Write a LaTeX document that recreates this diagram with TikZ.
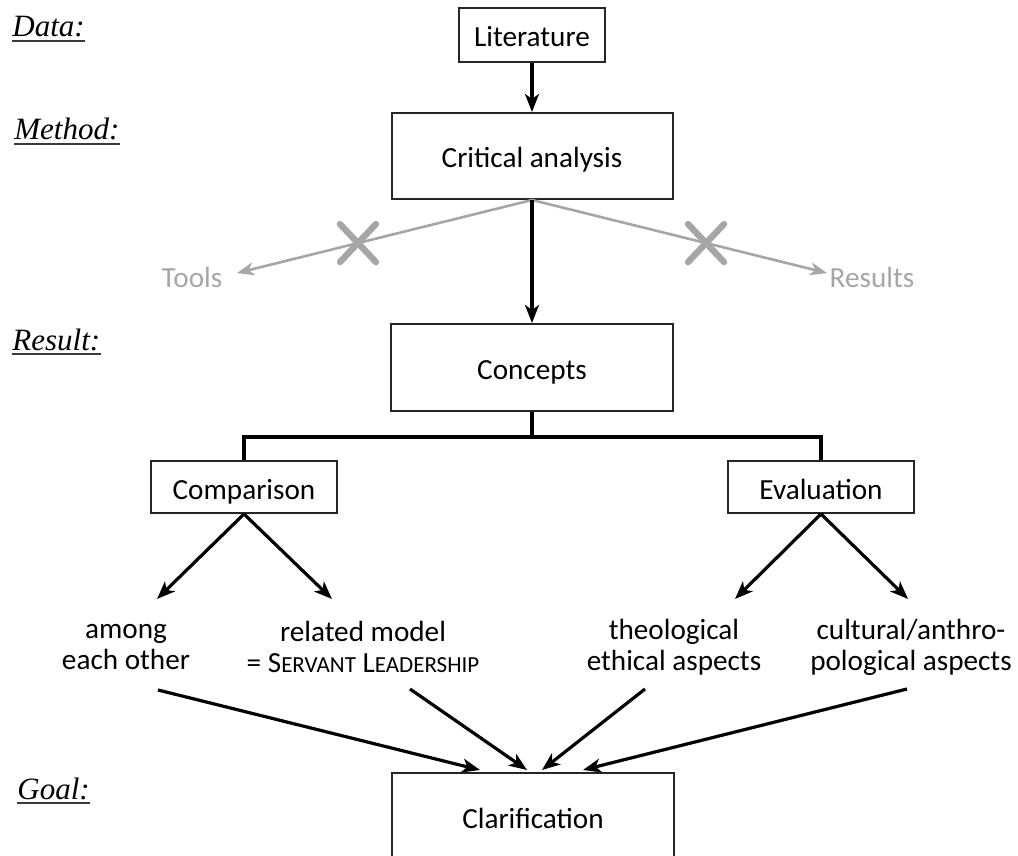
\documentclass[tikz,border=0pt]{standalone}
\usepackage{fontspec}
\setmainfont{Carlito}
\newfontfamily\labfont{Liberation Serif}
\usetikzlibrary{arrows.meta,calc}
\definecolor{lgray}{HTML}{A6A6A6}
\definecolor{ulgray}{HTML}{3A3A3A}
\newcommand{\fsc}[1]{{\fontsize{11.5}{12}\selectfont #1}}
\begin{document}
\begin{tikzpicture}[x=0.5pt,y=-0.5pt,
 box/.style={draw=black!85, line width=1pt, inner sep=0pt, text height=12pt, text depth=0pt, font=\fontsize{14.6}{15.5}\selectfont},
 leaf/.style={inner sep=0pt, align=center, font=\fontsize{14.6}{15.5}\selectfont},
 arr/.style={line width=1.6pt, -{Stealth[length=9pt,width=7pt,inset=2.5pt]}},
 tree/.style={line width=1.7pt},
 garr/.style={draw=lgray, line width=1.3pt, -{Stealth[length=8.5pt,width=6.5pt,inset=2.5pt]}},
 cross/.style={draw=lgray, line width=3.2pt, line cap=round},
 gtext/.style={text=lgray, inner sep=0pt, font=\fontsize{14.6}{15.5}\selectfont},
 lab/.style={inner sep=0pt, anchor=base west, font=\labfont\itshape\fontsize{15.5}{16}\selectfont},
 ul/.style={draw=ulgray, line width=1.1pt}]
\useasboundingbox (0,0) rectangle (1018,856);
\clip (0,0) rectangle (1018,856);

% left labels
\node[lab] (data) at (12,37) {Data:};
\node[lab] (method) at (14,140) {Method:};
\node[lab] (result) at (12,350) {Result:};
\node[lab] (goal) at (17,799) {Goal:};
\foreach \n in {data,method,result,goal}
  \draw[ul] ([yshift=-2pt]\n.base west) -- ([yshift=-2pt]\n.base east);

% boxes
\node[box, minimum width=73pt, minimum height=27pt] (lit) at (532,35) {Literature};
\node[box, minimum width=140.5pt, minimum height=43pt] (crit) at (532,156) {Critical analysis};
\node[box, minimum width=141pt, minimum height=43.5pt] (conc) at (532,367.5) {Concepts};
\node[box, minimum width=93pt, minimum height=26pt] (comp) at (244,487) {Comparison};
\node[box, minimum width=93pt, minimum height=26pt] (eval) at (821,487) {Evaluation};
\node[box, minimum width=141pt, minimum height=43.5pt] (clar) at (533,816.5) {Clarification};

% gray branch
\node[gtext] (tools) at (192,277) {Tools};
\node[gtext] (results) at (872,277) {Results};
\coordinate (gt) at (237,273);
\coordinate (gr) at (827,273);
\draw[garr] (crit.south) -- (gt);
\draw[garr] (crit.south) -- (gr);
\path (crit.south) -- (gt) coordinate[pos=0.59] (x1);
\path (crit.south) -- (gr) coordinate[pos=0.59] (x2);
\foreach \c in {x1,x2}{
  \draw[cross] ($(\c)+(-18,-19)$) -- ($(\c)+(18,19)$);
  \draw[cross] ($(\c)+(18,-19)$) -- ($(\c)+(-18,19)$);
}

% main flow
\draw[arr] (lit) -- (crit);
\draw[arr] (crit) -- (conc);
\coordinate (j) at (532,437);
\draw[tree] (conc.south) -- (j);
\draw[tree] (comp.north) -- (comp.north |- j) -- (eval.north |- j) -- (eval.north);

% leaves
\node[leaf] (among) at (126,647) {among\\each other};
\node[leaf] (related) at (363,647) {related model\\= S\fsc{ERVANT} L\fsc{EADERSHIP}};
\node[leaf] (theo) at (674,647) {theological\\ethical aspects};
\node[leaf] (cult) at (911,647) {cultural/anthro-\\pological aspects};

\coordinate (a1) at (157,599);
\coordinate (a2) at (332,599);
\coordinate (a3) at (735,599);
\coordinate (a4) at (908,599);
\draw[arr] (comp.south) -- (a1);
\draw[arr] (comp.south) -- (a2);
\draw[arr] (eval.south) -- (a3);
\draw[arr] (eval.south) -- (a4);

\coordinate (b1) at (158,690);
\coordinate (b2) at (410,689);
\coordinate (b3) at (645,689);
\coordinate (b4) at (907,689);
\coordinate (c1) at (480,770);
\coordinate (c2) at (527,770);
\coordinate (c3) at (542,770);
\coordinate (c4) at (583,770);
\draw[arr] (b1) -- (c1);
\draw[arr] (b2) -- (c2);
\draw[arr] (b3) -- (c3);
\draw[arr] (b4) -- (c4);
\end{tikzpicture}
\end{document}
